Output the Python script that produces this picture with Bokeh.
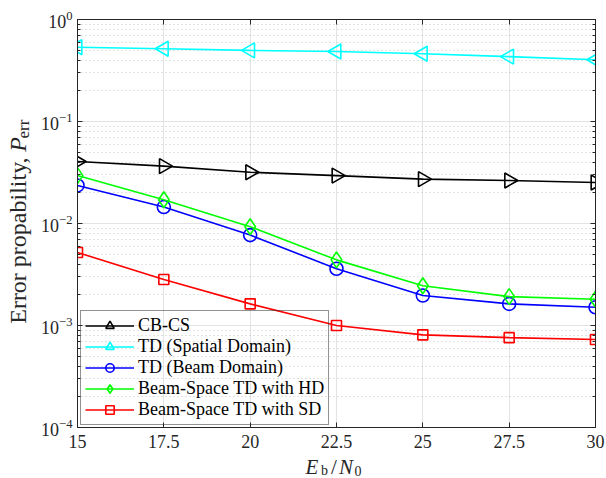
import numpy as np
from bokeh.plotting import figure
from bokeh.layouts import row, column
from bokeh.models import FixedTicker, LinearAxis, LogAxis, Label
from bokeh.embed import file_html
from bokeh.resources import INLINE

# ---- data ----
snr = [15, 17.5, 20, 22.5, 25, 27.5, 30]
x_tick_labels = ["15", "17.5", "20", "22.5", "25", "27.5", "30"]
cb_cs = [0.0405, 0.0365, 0.0318, 0.0295, 0.0272, 0.0264, 0.0252]
td_spatial = [0.535, 0.516, 0.498, 0.485, 0.461, 0.433, 0.403]
td_beam = [0.0236, 0.0145, 0.0077, 0.0036, 0.00197, 0.00163, 0.00151]
bs_hd = [0.0295, 0.0171, 0.0093, 0.0044, 0.00245, 0.00192, 0.00181]
bs_sd = [0.0052, 0.00282, 0.00163, 0.00100, 0.00081, 0.00076, 0.00073]
y_ticks = [1e-4, 1e-3, 1e-2, 1e-1, 1.0]
y_minor = [m * d for d in [1e-4, 1e-3, 1e-2, 1e-1] for m in range(2, 10)]

series = [
    ("CB-CS", cb_cs, "black", "triangle", -np.pi / 2, 15),
    ("TD (Spatial Domain)", td_spatial, "#00ffff", "triangle", np.pi / 2, 15),
    ("TD (Beam Domain)", td_beam, "#0000ff", "circle", 0.0, 13),
    ("Beam-Space TD with HD", bs_hd, "#00ff00", "diamond", 0.0, 16),
    ("Beam-Space TD with SD", bs_sd, "#ff0000", "square", 0.0, 10),
]

FONT = "Liberation Serif"
AX = "#262626"

YLAB_W = 33
MAIN_H = 454
TOTAL_W = 606
TOTAL_H = 478

p = figure(width=TOTAL_W - YLAB_W, height=MAIN_H, y_axis_type="log", x_range=(15, 30),
           y_range=(1e-4, 1), output_backend="svg", toolbar_location=None,
           min_border_left=77 - YLAB_W, min_border_right=11, min_border_top=19,
           min_border_bottom=MAIN_H - 19 - 408)
p.outline_line_color = AX
p.outline_line_width = 1

xt = FixedTicker(ticks=snr)
yt = FixedTicker(ticks=y_ticks, minor_ticks=y_minor)

p.xaxis.ticker = xt
p.xaxis.major_label_overrides = {v: s for v, s in zip(snr, x_tick_labels)}
p.yaxis.ticker = yt
for ax in [p.xaxis[0], p.yaxis[0]]:
    ax.axis_line_color = AX
    ax.major_tick_line_color = AX
    ax.minor_tick_line_color = AX
    ax.major_tick_in = 5
    ax.major_tick_out = 0
    ax.minor_tick_in = 3
    ax.minor_tick_out = 0
    ax.major_label_text_font = FONT
    ax.major_label_text_font_size = "18px"
    ax.major_label_text_color = AX
p.xaxis.minor_tick_line_color = None
p.xaxis.major_label_standoff = 7
p.yaxis.major_label_standoff = 5

# top and right axes (box with ticks)
top = LinearAxis(ticker=xt, major_tick_in=5, major_tick_out=0, minor_tick_line_color=None,
                 major_label_text_font_size="0px", major_label_standoff=0,
                 axis_line_color=AX, major_tick_line_color=AX)
top.major_label_overrides = {v: "" for v in snr}
right = LogAxis(ticker=yt, major_tick_in=5, major_tick_out=0, minor_tick_in=3, minor_tick_out=0,
                major_label_text_font_size="0px", major_label_standoff=0,
                axis_line_color=AX, major_tick_line_color=AX, minor_tick_line_color=AX)
right.major_label_overrides = {v: "" for v in y_ticks}
p.add_layout(top, "above")
p.add_layout(right, "right")

# grids
p.xgrid.ticker = xt
p.ygrid.ticker = yt
p.xgrid.grid_line_color = "#e3e3e3"
p.ygrid.grid_line_color = "#e3e3e3"
p.ygrid.minor_grid_line_color = "#c4c4c4"
p.ygrid.minor_grid_line_dash = "1 3"

for name, ys, col, mk, ang, sz in series:
    p.line(snr, ys, line_color=col, line_width=1.6, legend_label=name)
    p.scatter(snr, ys, marker=mk, angle=ang, size=sz, line_color=col, line_width=1.6,
              fill_alpha=0, legend_label=name)

lg = p.legend[0]
lg.location = (3, 2)
lg.background_fill_alpha = 0
lg.border_line_color = AX
lg.border_line_width = 1
lg.padding = 4
lg.spacing = 0
lg.margin = 0
lg.glyph_height = 21
lg.label_height = 21
lg.glyph_width = 49
lg.label_standoff = 4
lg.label_text_font = FONT
lg.label_text_font_size = "18px"
lg.label_text_color = "black"


def blank_fig(w, h):
    f = figure(width=w, height=h, x_range=(0, w), y_range=(0, h), output_backend="svg",
               toolbar_location=None, min_border=0, x_axis_location=None,
               y_axis_location=None, outline_line_color=None)
    f.xgrid.visible = False
    f.ygrid.visible = False
    return f


# y-axis label: "Error propability, P_err" (rotated), in a side strip
ylab = blank_fig(YLAB_W, MAIN_H)
lab_kw = dict(angle=np.pi / 2, text_baseline="middle", text_align="center",
              text_font=FONT, text_color=AX)
ylab.add_layout(Label(x=17, y=MAIN_H - 246, text="Error propability,",
                      text_font_size="24px", **lab_kw))
ylab.add_layout(Label(x=17, y=MAIN_H - 139, text="P",
                      text_font_size="24px", text_font_style="italic", **lab_kw))
ylab.add_layout(Label(x=23, y=MAIN_H - 122, text="err",
                      text_font_size="17px", **lab_kw))

# x-axis label: "E_b/N_0", in a bottom strip
XL_H = TOTAL_H - MAIN_H
xlab = blank_fig(TOTAL_W, XL_H)
xl_kw = dict(text_baseline="middle", text_align="center", text_font=FONT, text_color=AX)
xlab.add_layout(Label(x=311.5, y=12, text="E", text_font_size="21px",
                      text_font_style="italic", **xl_kw))
xlab.add_layout(Label(x=324, y=7.75, text="b", text_font_size="14px", **xl_kw))
xlab.add_layout(Label(x=333.5, y=12, text="/", text_font_size="21px", **xl_kw))
xlab.add_layout(Label(x=345.5, y=12, text="N", text_font_size="21px",
                      text_font_style="italic", **xl_kw))
xlab.add_layout(Label(x=357.5, y=7.75, text="0", text_font_size="14px", **xl_kw))

layout = column(row(ylab, p, spacing=0), xlab, spacing=0)
open("out.html", "w").write(file_html(layout, INLINE))
